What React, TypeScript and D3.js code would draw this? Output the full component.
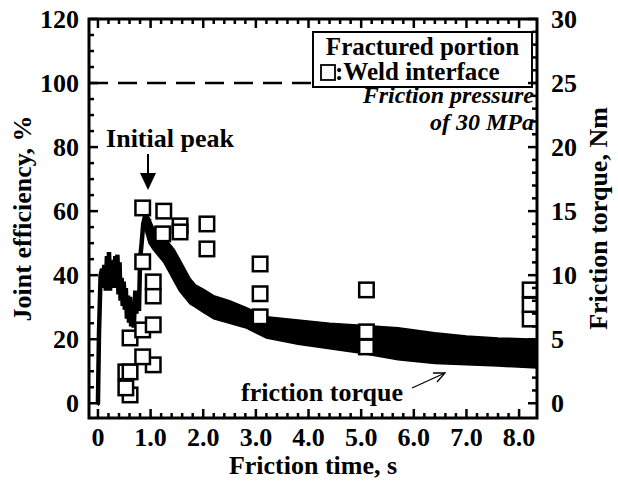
import React from "react";
import * as d3 from "d3";

// ---- data ----
const weldTime = [0.61, 0.53, 0.53, 0.61, 1.05, 0.85, 0.61, 0.85, 1.05, 1.05, 1.05, 0.85, 0.85, 1.25, 1.23, 1.56, 1.56, 2.07, 2.07, 3.08, 3.08, 3.08, 5.1, 5.1, 5.1, 8.21, 8.21, 8.21];
const weldEff = [2.6, 4.8, 9.8, 9.8, 12, 14.5, 20.4, 22.9, 24.5, 33.5, 37.9, 44.2, 61, 60, 52.9, 55.4, 53.5, 56, 48.2, 43.5, 34.2, 27, 35.4, 22.3, 17.6, 35.4, 30.7, 26.3];

// early spiky torque trace (Nm)
const earlyTime = [-0.02, 0.0, 0.02, 0.05, 0.08, 0.1, 0.12, 0.15, 0.17, 0.19, 0.21, 0.23, 0.25, 0.27, 0.29, 0.31, 0.33, 0.35, 0.37, 0.39, 0.41, 0.43, 0.45, 0.47, 0.49, 0.51, 0.53, 0.55, 0.57, 0.59, 0.61, 0.63, 0.66, 0.68, 0.71, 0.73, 0.75, 0.78, 0.8, 0.83, 0.86, 0.9, 0.93, 0.95, 1.0];
const earlyTorque = [-0.1, 0, 5.5, 10, 10.5, 9.0, 10.8, 8.8, 11.5, 9.4, 11.8, 8.8, 11.2, 9.0, 11.0, 9.2, 11.5, 9.0, 11.6, 8.5, 11.0, 8.0, 9.8, 7.6, 9.5, 7.3, 9.0, 6.6, 8.4, 6.3, 8.3, 6.0, 8.0, 5.9, 8.8, 7.0, 8.2, 7.2, 11.2, 12.5, 14.0, 14.7, 13.8, 14.3, 14.2];

// noisy torque band after the initial peak (Nm)
const bandTime = [0.9, 0.97, 1.05, 1.15, 1.25, 1.35, 1.45, 1.55, 1.65, 1.75, 1.85, 2.0, 2.2, 2.5, 2.8, 3.2, 3.8, 4.4, 5.0, 5.7, 6.4, 7.0, 7.6, 8.34];
const bandUpper = [14.75, 14.5, 13.75, 13.25, 12.75, 12.5, 12, 11.25, 10.5, 9.75, 9.25, 8.9, 8.4, 8.0, 7.5, 6.75, 6.5, 6.25, 6.1, 5.9, 5.5, 5.25, 5.1, 5.0];
const bandLower = [13.5, 12.5, 12, 11.5, 11, 10.25, 9.5, 8.75, 8.25, 7.75, 7.5, 7.1, 6.6, 6.25, 5.9, 5.1, 4.6, 4.25, 3.9, 3.4, 3.1, 3.0, 2.9, 2.75];

const xTicks = [0, 1, 2, 3, 4, 5, 6, 7, 8];
const xTickLabels = ["0", "1.0", "2.0", "3.0", "4.0", "5.0", "6.0", "7.0", "8.0"];
const yTicks = [0, 20, 40, 60, 80, 100, 120];
const yTTicks = [0, 5, 10, 15, 20, 25, 30];

const FONT = "Liberation Serif, Tinos, Times New Roman, Times, DejaVu Serif, serif";

export default function App() {
  const L = 89, R = 537, T = 19, B = 418;
  const x = d3.scaleLinear().domain([-0.17, 8.34]).range([L, R]);
  const y = d3.scaleLinear().domain([-4.6, 120]).range([B, T]);
  const yT = d3.scaleLinear().domain([-4.6 / 4, 30]).range([B, T]);

  const xMinor = d3.range(0, 8.01, 0.2).filter((v) => Math.abs(v - Math.round(v)) > 1e-6);
  const yMinor = d3.range(0, 120.1, 5).filter((v) => v % 20 !== 0);
  const yTMinor = d3.range(0, 30.1, 1).filter((v) => v % 5 !== 0);

  const earlyLine = d3
    .line<number>()
    .x((_, i) => x(earlyTime[i]))
    .y((d) => yT(d))(earlyTorque) as string;

  const band = d3
    .area<number>()
    .x((_, i) => x(bandTime[i]))
    .y0((_, i) => yT(bandLower[i]))
    .y1((d) => yT(d))(bandUpper) as string;

  const sq = 14.5;
  const MAJ = 9, MIN = 5;
  const FS = 26;
  const FSL = 25;
  const FSI = 24;
  const bold = { fontFamily: FONT, fontWeight: 700 } as React.CSSProperties;
  const boldIt = { fontFamily: FONT, fontWeight: 700, fontStyle: "italic" } as React.CSSProperties;

  return (
    <svg width={618} height={486} style={{ display: "block", position: "absolute", left: 0, top: 0, fontFamily: FONT }}>
      <rect x={0} y={0} width={618} height={486} fill="#fff" />
      <defs>
        <clipPath id="plot">
          <rect x={L} y={T} width={R - L} height={B - T} />
        </clipPath>
      </defs>

      {/* dashed 100% line */}
      <line x1={L} x2={R} y1={y(100)} y2={y(100)} stroke="#000" strokeWidth={2.5} strokeDasharray="19 10" />

      {/* torque */}
      <g clipPath="url(#plot)">
        <path d={band} fill="#000" stroke="#000" strokeWidth={1.5} />
        <path d={earlyLine} fill="none" stroke="#000" strokeWidth={4.5} strokeLinejoin="miter" />
        {weldTime.map((t, i) => (
          <rect key={i} x={x(t) - sq / 2} y={y(weldEff[i]) - sq / 2} width={sq} height={sq} fill="#fff" stroke="#000" strokeWidth={2.5} />
        ))}
      </g>

      {/* legend box */}
      <rect x={313} y={32} width={219} height={55} fill="#fff" stroke="#000" strokeWidth={2} />
      <text x={422.5} y={55} textAnchor="middle" fontSize={FSL} style={bold}>Fractured portion</text>
      <rect x={321} y={65} width={14} height={15} fill="#fff" stroke="#000" strokeWidth={1.8} />
      <text x={335} y={80} fontSize={FSL} style={bold}>:Weld interface</text>

      <text x={534} y={103} textAnchor="end" fontSize={FSI} style={boldIt}>Friction pressure</text>
      <text x={534} y={130} textAnchor="end" fontSize={FSI} style={boldIt}>of 30 MPa</text>

      {/* initial peak */}
      <text x={170} y={147} textAnchor="middle" fontSize={FS} style={bold}>Initial peak</text>
      <line x1={148} x2={148} y1={154} y2={175} stroke="#000" strokeWidth={2} />
      <path d="M140,173 L156,173 L148,190 Z" fill="#000" />

      {/* friction torque annotation */}
      <text x={322} y={401} textAnchor="middle" fontSize={FS} style={bold}>friction torque</text>
      <line x1={412} x2={445} y1={388} y2={373} stroke="#000" strokeWidth={1.3} />
      <path d="M433,373 L445,373 L437,382" fill="none" stroke="#000" strokeWidth={1.3} />

      {/* ticks */}
      <g stroke="#000" strokeWidth={2.5}>
        {xTicks.map((t) => (
          <g key={"xt" + t}>
            <line x1={x(t)} x2={x(t)} y1={B} y2={B - MAJ} />
            <line x1={x(t)} x2={x(t)} y1={T} y2={T + MAJ} />
          </g>
        ))}
        {xMinor.map((t, i) => (
          <g key={"xm" + i}>
            <line x1={x(t)} x2={x(t)} y1={B} y2={B - MIN} />
            <line x1={x(t)} x2={x(t)} y1={T} y2={T + MIN} />
          </g>
        ))}
        {yTicks.map((v) => (
          <line key={"yt" + v} x1={L} x2={L + MAJ} y1={y(v)} y2={y(v)} />
        ))}
        {yMinor.map((v) => (
          <line key={"ym" + v} x1={L} x2={L + MIN} y1={y(v)} y2={y(v)} />
        ))}
        {yTTicks.map((v) => (
          <line key={"rt" + v} x1={R} x2={R - MAJ} y1={yT(v)} y2={yT(v)} />
        ))}
        {yTMinor.map((v) => (
          <line key={"rm" + v} x1={R} x2={R - MIN} y1={yT(v)} y2={yT(v)} />
        ))}
      </g>

      {/* frame */}
      <rect x={L} y={T} width={R - L} height={B - T} fill="none" stroke="#000" strokeWidth={3} />

      {/* tick labels */}
      <g fontSize={FS} style={bold}>
        {xTicks.map((t, i) => (
          <text key={"xl" + t} x={x(t)} y={446} textAnchor="middle">{xTickLabels[i]}</text>
        ))}
        {yTicks.map((v) => (
          <text key={"yl" + v} x={79} y={y(v) + 9} textAnchor="end">{v}</text>
        ))}
        {yTTicks.map((v) => (
          <text key={"rl" + v} x={551} y={yT(v) + 9} textAnchor="start">{v}</text>
        ))}
      </g>

      {/* axis titles */}
      <text x={313} y={474} textAnchor="middle" fontSize={FS} style={bold}>Friction time, s</text>
      <text transform={`translate(31,${(T + B) / 2}) rotate(-90)`} textAnchor="middle" fontSize={FS} style={bold}>Joint efficiency, %</text>
      <text transform={`translate(607,${(T + B) / 2}) rotate(-90)`} textAnchor="middle" fontSize={FS} style={bold}>Friction torque, Nm</text>
    </svg>
  );
}
